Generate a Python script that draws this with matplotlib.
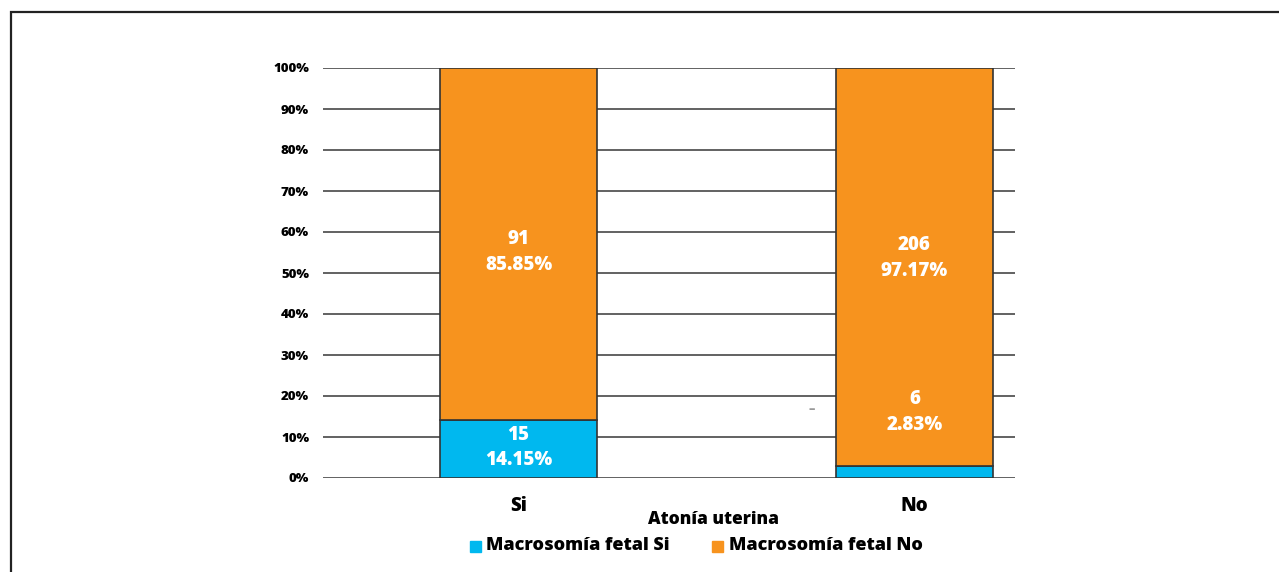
import matplotlib.pyplot as plt
from matplotlib.patches import Rectangle

categories = ["Si", "No"]
macro_si_n = [15, 6]
macro_no_n = [91, 206]
macro_si_pct = [14.15, 2.83]
macro_no_pct = [85.85, 97.17]
yticks = [0, 10, 20, 30, 40, 50, 60, 70, 80, 90, 100]

blue = "#00B8EF"
orange = "#F7931E"

plt.rcParams['font.family'] = ['Open Sans', 'DejaVu Sans']
plt.rcParams['font.weight'] = 800
W = 800

fig = plt.figure(figsize=(12.79, 5.72), dpi=100)
# outer frame
fig.patches.append(Rectangle((11 / 1279, -0.05), 1.1, 1 - 12 / 572 + 0.05,
                             transform=fig.transFigure, fill=False,
                             edgecolor="#222222", linewidth=1.6))

ax = fig.add_axes([323 / 1279, 1 - 478 / 572, 692 / 1279, 410 / 572])
x = list(range(len(categories)))
ax.bar(x, macro_si_pct, width=0.395, color=blue, edgecolor="#333333",
       linewidth=1.2, zorder=3)
ax.bar(x, macro_no_pct, bottom=macro_si_pct, width=0.395, color=orange,
       edgecolor="#333333", linewidth=1.2, zorder=3)

ax.set_xlim(-0.494, 1.254)
ax.set_ylim(0, 100)
ax.set_yticks(yticks)
ax.set_yticklabels([f"{t}%" for t in yticks], fontsize=9.5, fontweight=W)
ax.yaxis.grid(True, color="#555555", linewidth=1.3, zorder=0)
ax.set_axisbelow(True)
ax.tick_params(axis='y', length=0, pad=10)
ax.tick_params(axis='x', length=0, pad=13)
ax.set_xticks(x)
ax.set_xticklabels(categories, fontsize=13.5, fontweight=W)
for s in ax.spines.values():
    s.set_visible(False)

# segment labels
lab = dict(ha='center', va='center', color='white', fontsize=13.5,
           fontweight=W, linespacing=1.4, zorder=5)
ax.text(x[0], 55.2, f"{macro_no_n[0]}\n{macro_no_pct[0]:.2f}%", **lab)
ax.text(x[1], 53.7, f"{macro_no_n[1]}\n{macro_no_pct[1]:.2f}%", **lab)
ax.text(x[0], 7.4, f"{macro_si_n[0]}\n{macro_si_pct[0]:.2f}%",
        **{**lab, 'linespacing': 1.3})
ax.text(x[1], 16.1, f"{macro_si_n[1]}\n{macro_si_pct[1]:.2f}%", **lab)
ax.text(x[1] - 0.26, 16.5, "\u2013", ha='center', va='center',
        color='#999999', fontsize=9, zorder=5)

fig.text(714 / 1279, 1 - 520 / 572, "Atonía uterina", ha='center',
         va='center', fontsize=12.5, fontweight=W)

# legend
fig.patches.append(Rectangle((470 / 1279, 1 - 552 / 572), 11 / 1279, 11 / 572,
                             transform=fig.transFigure, color=blue))
fig.text(486 / 1279, 1 - 546 / 572, "Macrosomía fetal Si", ha='left',
         va='center', fontsize=13, fontweight=W)
fig.patches.append(Rectangle((712 / 1279, 1 - 552 / 572), 11 / 1279, 11 / 572,
                             transform=fig.transFigure, color=orange))
fig.text(729 / 1279, 1 - 546 / 572, "Macrosomía fetal No", ha='left',
         va='center', fontsize=13, fontweight=W)

fig.savefig("out.png", dpi=100)
